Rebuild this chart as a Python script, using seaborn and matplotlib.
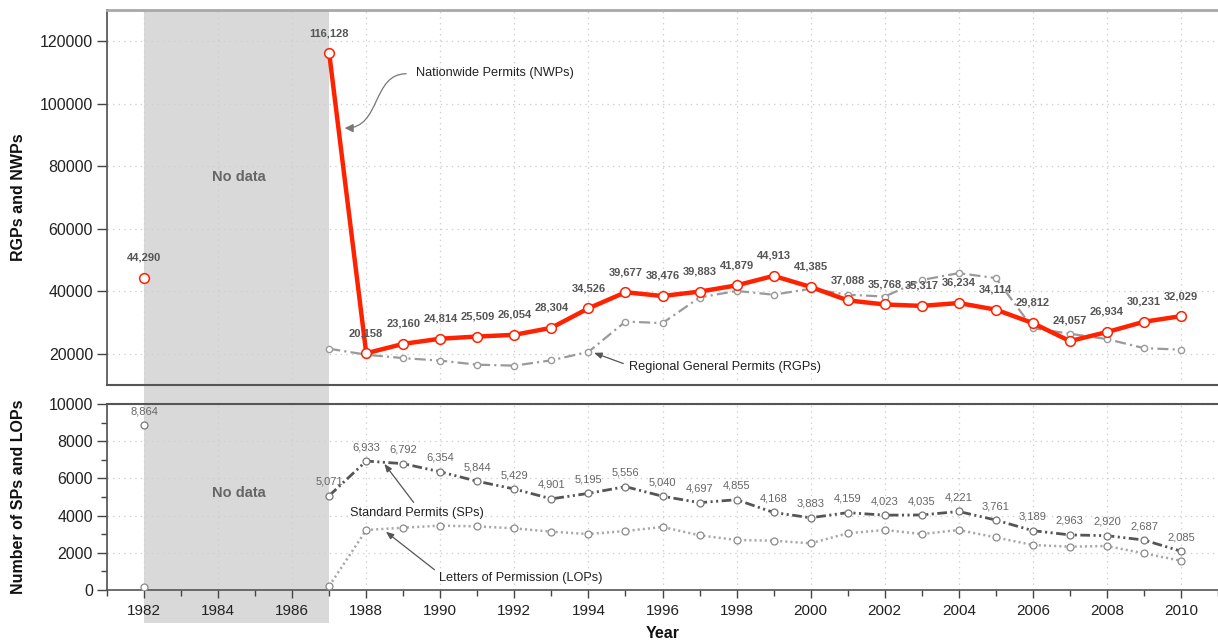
import matplotlib
matplotlib.use("Agg")
import matplotlib.pyplot as plt
import matplotlib.transforms as mtransforms
from matplotlib.patches import Rectangle, FancyArrowPatch
from matplotlib.path import Path
import numpy as np
import pandas as pd
import seaborn as sns

# ---------------- data ----------------
years = [1982] + list(range(1987, 2011))
nwp = [44290, 116128, 20158, 23160, 24814, 25509, 26054, 28304, 34526, 39677,
       38476, 39883, 41879, 44913, 41385, 37088, 35768, 35317, 36234, 34114,
       29812, 24057, 26934, 30231, 32029]
rgp_years = list(range(1987, 2011))
rgp = [21600, 19700, 18600, 17800, 16500, 16200, 17900, 20600, 30300, 29800,
       38000, 40100, 38900, 40800, 38900, 38300, 43600, 45800, 44200, 28200,
       26400, 24700, 21800, 21300]
sp = [8864, 5071, 6933, 6792, 6354, 5844, 5429, 4901, 5195, 5556, 5040, 4697,
      4855, 4168, 3883, 4159, 4023, 4035, 4221, 3761, 3189, 2963, 2920, 2687, 2085]
lop = [180, 215, 3225, 3350, 3460, 3420, 3315, 3135, 3010, 3170, 3390, 2940,
       2690, 2650, 2510, 3050, 3225, 3010, 3225, 2830, 2420, 2330, 2365, 1970, 1575]
no_data_span = (1982, 1987)

top_ticks = [20000, 40000, 60000, 80000, 100000, 120000]
bot_ticks = [0, 2000, 4000, 6000, 8000, 10000]
x_major = list(range(1982, 2011, 2))
x_minor = list(range(1981, 2012, 2))

# ---------------- style ----------------
sns.set_theme(style="white")
plt.rcParams["font.family"] = ["Liberation Sans", "DejaVu Sans"]
plt.rcParams["lines.scale_dashes"] = False

RED = "#ff2200"
GREY_RGP = "#9a9a9a"
GREY_SP = "#555555"
GREY_LOP = "#a8a8a8"
SHADE = "#d9d9d9"

fig = plt.figure(figsize=(12.18, 6.44), dpi=100)
W, H = 1218.0, 644.0
ax1 = fig.add_axes([107 / W, 1 - 385 / H, 1 - 107 / W, 375 / H])
ax2 = fig.add_axes([107 / W, 1 - 590 / H, 1 - 107 / W, 186 / H])
for ax in (ax1, ax2):
    ax.set_facecolor("none")
    ax.set_xlim(1981, 2011)

df_nwp = pd.DataFrame({"year": years, "value": nwp})
df_rgp = pd.DataFrame({"year": rgp_years, "value": rgp})
df_sp = pd.DataFrame({"year": years, "value": sp})
df_lop = pd.DataFrame({"year": years, "value": lop})

# ---------------- shaded "no data" band ----------------
tr1 = mtransforms.blended_transform_factory(ax1.transData, ax1.transAxes)
ax1.add_patch(Rectangle((no_data_span[0], -0.06), no_data_span[1] - no_data_span[0], 1.06,
                        transform=tr1, facecolor=SHADE, edgecolor="none",
                        clip_on=False, zorder=0))
tr2 = mtransforms.blended_transform_factory(ax2.transData, ax2.transAxes)
ax2.add_patch(Rectangle((no_data_span[0], -0.18), no_data_span[1] - no_data_span[0], 1.18,
                        transform=tr2, facecolor=SHADE, edgecolor="none",
                        clip_on=False, zorder=0))

# ---------------- top panel ----------------
ax1.set_ylim(10000, 130000)
ax1.set_yticks(top_ticks)
ax1.set_xticks(x_major)
ax1.grid(True, color="#cfcfcf", linestyle=(0, (1, 3)), linewidth=0.9)
ax1.set_axisbelow(True)

sns.lineplot(data=df_rgp, x="year", y="value", ax=ax1, color=GREY_RGP, lw=1.6,
             marker="o", markersize=4.5, markerfacecolor="white",
             markeredgecolor=GREY_RGP, markeredgewidth=1.0, errorbar=None, zorder=3)
ax1.lines[-1].set_dashes((8, 3, 1.5, 3))

seg = df_nwp[df_nwp["year"] >= 1987]
sns.lineplot(data=seg, x="year", y="value", ax=ax1, color=RED, lw=3.2,
             marker="o", markersize=7, markerfacecolor="white",
             markeredgecolor=RED, markeredgewidth=1.1, errorbar=None, zorder=4)
first = df_nwp[df_nwp["year"] < 1987]
ax1.plot(first["year"], first["value"], linestyle="none", marker="o", markersize=7,
         markerfacecolor="white", markeredgecolor=RED, markeredgewidth=1.1, zorder=4)

for yr, v in zip(years, nwp):
    ax1.annotate(f"{v:,}", (yr, v), xytext=(0, 14.5), textcoords="offset points",
                 ha="center", va="center", fontsize=8, fontweight="bold",
                 color="#555555", zorder=6)

ax1.text(1984.55, 76500, "No data", ha="center", va="center", fontsize=10.5,
         fontweight="bold", color="#666666", zorder=2)

# Nationwide permits label with S-shaped arrow
ax1.text(1989.35, 109800, "Nationwide Permits (NWPs)", ha="left", va="center",
         fontsize=9.2, color="#222222", zorder=7)
s_path = Path([(1989.08, 109600), (1988.15, 109600), (1988.4, 92200), (1987.42, 92200)],
              [Path.MOVETO, Path.CURVE4, Path.CURVE4, Path.CURVE4])
ax1.add_patch(FancyArrowPatch(path=s_path, arrowstyle="-|>,head_length=5,head_width=2.5",
                              color="#777777", lw=0.9, transform=ax1.transData,
                              zorder=7))

ax1.annotate("Regional General Permits (RGPs)", xy=(1994.15, 20300), xytext=(1995.1, 15800),
             ha="left", va="center", fontsize=9.2, color="#222222", zorder=7,
             arrowprops=dict(arrowstyle="-|>,head_length=0.5,head_width=0.2",
                             color="#555555", lw=0.9, shrinkA=2, shrinkB=0,
                             relpos=(0, 0.6)))

ax1.set_xlabel("")
ax1.set_ylabel("RGPs and NWPs", fontsize=11.5, fontweight="bold", color="#111111")
ax1.yaxis.set_label_coords(-0.073, 0.5)
ax1.tick_params(axis="y", direction="out", length=7, width=1, color="#444444",
                labelsize=11.5, pad=3, left=True, labelcolor="#222222")
ax1.tick_params(axis="x", length=0, labelbottom=False)
ax1.spines["right"].set_visible(False)
ax1.spines["top"].set_color("#a8a8a8")
ax1.spines["top"].set_linewidth(2)
ax1.spines["left"].set_color("#555555")
ax1.spines["bottom"].set_color("#555555")
ax1.spines["bottom"].set_linewidth(1.5)

# ---------------- bottom panel ----------------
ax2.set_ylim(0, 10000)
ax2.set_yticks(bot_ticks)
ax2.set_yticks(range(1000, 10000, 2000), minor=True)
ax2.set_xticks(x_major)
ax2.set_xticks(x_minor, minor=True)
ax2.grid(True, which="major", color="#cfcfcf", linestyle=(0, (1, 3)), linewidth=0.9)
ax2.set_axisbelow(True)

sns.lineplot(data=df_lop, x="year", y="value", ax=ax2, color=GREY_LOP, lw=1.8,
             marker="o", markersize=5, markerfacecolor="white",
             markeredgecolor="#8a8a8a", markeredgewidth=0.9, errorbar=None, zorder=3)
ax2.lines[-1].set_dashes((1.5, 2.2))
sns.lineplot(data=df_sp, x="year", y="value", ax=ax2, color=GREY_SP, lw=2.0,
             marker="o", markersize=5, markerfacecolor="white",
             markeredgecolor="#777777", markeredgewidth=0.9, errorbar=None, zorder=4)
ax2.lines[-1].set_dashes((7, 2.5, 1.5, 2.5, 1.5, 2.5))

# break the 1982 -> 1987 segment (no data in between)
for ln in ax2.lines[-2:]:
    xd = np.asarray(ln.get_xdata(), dtype=float)
    yd = np.asarray(ln.get_ydata(), dtype=float)
    xd = np.insert(xd, 1, np.nan)
    yd = np.insert(yd, 1, np.nan)
    ln.set_data(xd, yd)

for yr, v in zip(years, sp):
    ax2.annotate(f"{v:,}", (yr, v), xytext=(0, 10), textcoords="offset points",
                 ha="center", va="center", fontsize=8, color="#666666", zorder=6)

ax2.text(1984.55, 5200, "No data", ha="center", va="center", fontsize=10.5,
         fontweight="bold", color="#666666", zorder=2)

ax2.annotate("Standard Permits (SPs)", xy=(1988.49, 6780), xytext=(1989.37, 4150),
             ha="center", va="center", fontsize=9.2, color="#222222", zorder=7,
             arrowprops=dict(arrowstyle="-|>,head_length=0.5,head_width=0.2",
                             color="#555555", lw=0.9, shrinkA=1, shrinkB=0,
                             relpos=(0.5, 1)))
ax2.annotate("Letters of Permission (LOPs)", xy=(1988.53, 3135), xytext=(1989.96, 650),
             ha="left", va="center", fontsize=9.2, color="#222222", zorder=7,
             arrowprops=dict(arrowstyle="-|>,head_length=0.5,head_width=0.2",
                             color="#555555", lw=0.9, shrinkA=1, shrinkB=0,
                             relpos=(0, 0.9)))

ax2.set_xlabel("Year", fontsize=11.5, fontweight="bold", color="#111111")
ax2.xaxis.set_label_coords(0.5, -0.195)
ax2.set_ylabel("Number of SPs and LOPs", fontsize=11.5, fontweight="bold", color="#111111")
ax2.yaxis.set_label_coords(-0.073, 0.5)
ax2.tick_params(axis="y", which="major", direction="out", length=7, width=1,
                color="#444444", labelsize=11.5, pad=3, left=True, labelcolor="#222222")
ax2.tick_params(axis="y", which="minor", direction="out", length=4, width=1,
                color="#444444", left=True)
ax2.tick_params(axis="x", which="major", direction="out", length=6, width=1,
                color="#444444", labelsize=11, pad=4, bottom=True, labelcolor="#222222")
ax2.tick_params(axis="x", which="minor", direction="out", length=4, width=1,
                color="#444444", bottom=True)
ax2.spines["right"].set_visible(False)
for s in ("top", "left", "bottom"):
    ax2.spines[s].set_color("#555555")
ax2.spines["top"].set_linewidth(1.5)
ax2.spines["bottom"].set_linewidth(1.2)

fig.savefig("out.png", dpi=100)
